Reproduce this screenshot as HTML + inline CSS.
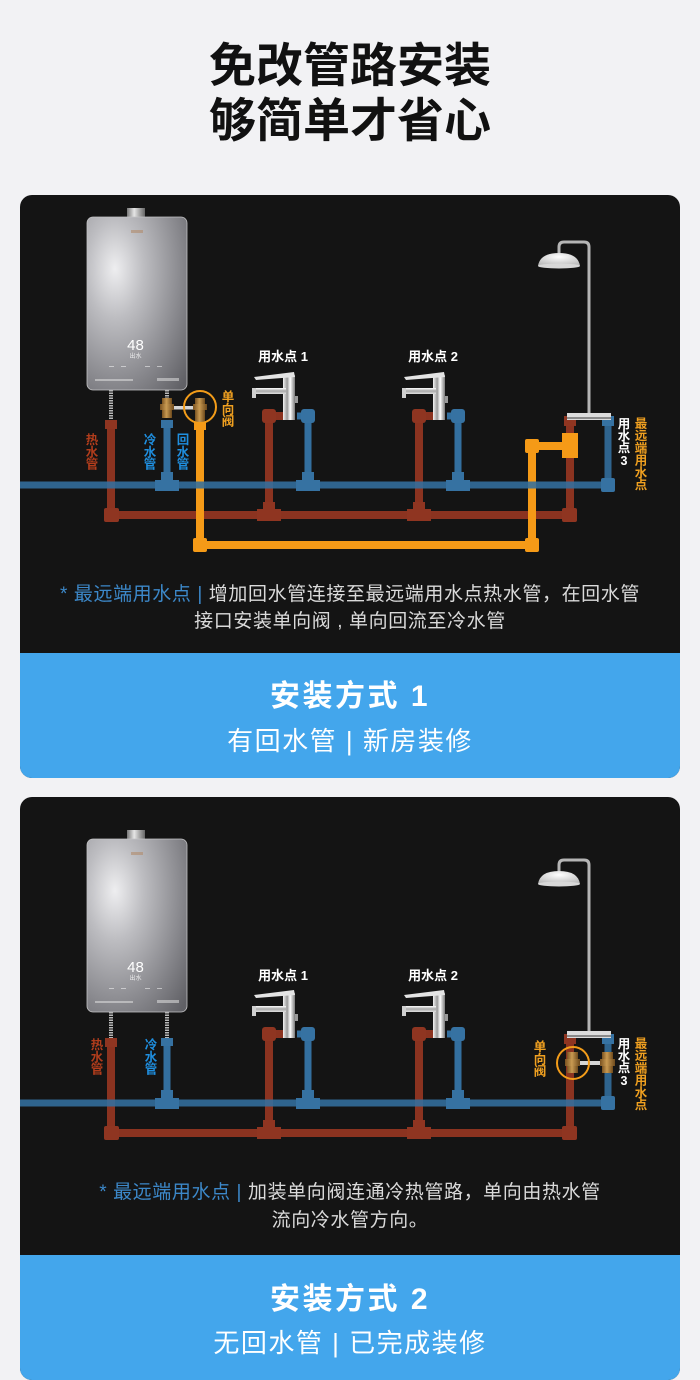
<!DOCTYPE html>
<html>
<head>
<meta charset="utf-8">
<style>
  html,body{margin:0;padding:0;}
  body{width:700px;height:1380px;background:#f2f2f4;position:relative;overflow:hidden;
       font-family:"Liberation Sans","Noto Sans CJK SC",sans-serif;}
  .title{position:absolute;left:0;width:700px;text-align:center;font-size:47px;font-weight:bold;
         color:#111;height:56px;line-height:56px;letter-spacing:0px;}
  .panel{position:absolute;left:20px;width:660px;height:583px;border-radius:12px;background:#141414;overflow:hidden;}
  .panel .blue{position:absolute;left:0;top:458px;width:660px;height:125px;background:#43a6ec;}
  .cap{position:absolute;left:0;width:700px;text-align:center;font-size:19px;color:#dadada;
       height:26px;line-height:26px;letter-spacing:0.6px;white-space:nowrap;}
  .cap .b{color:#3c88c9;}
  .h1{position:absolute;left:0;width:700px;text-align:center;font-size:30px;font-weight:bold;color:#fff;
      height:40px;line-height:40px;letter-spacing:2.5px;}
  .h2{position:absolute;left:0;width:700px;text-align:center;font-size:26px;color:#fff;
      height:34px;line-height:34px;letter-spacing:1.5px;}
  svg{position:absolute;left:0;top:0;}
  svg text{font-family:"Liberation Sans","Noto Sans CJK SC",sans-serif;}
</style>
</head>
<body>

<div class="title" style="top:38px">免改管路安装</div>
<div class="title" style="top:93px">够简单才省心</div>

<div class="panel" style="top:195px"><div class="blue"></div></div>
<div class="panel" style="top:797px"><div class="blue"></div></div>

<svg width="700" height="1380" viewBox="0 0 700 1380" xmlns="http://www.w3.org/2000/svg">
  <defs>
    <radialGradient id="hg" cx="0.28" cy="0.3" r="0.95">
      <stop offset="0" stop-color="#eeeef0"/>
      <stop offset="0.3" stop-color="#bdbdc1"/>
      <stop offset="0.7" stop-color="#88888d"/>
      <stop offset="1" stop-color="#616166"/>
    </radialGradient>
    <linearGradient id="chim" x1="0" y1="0" x2="1" y2="0">
      <stop offset="0" stop-color="#777"/>
      <stop offset="0.4" stop-color="#e6e6e6"/>
      <stop offset="1" stop-color="#666"/>
    </linearGradient>
    <linearGradient id="chromeH" x1="0" y1="0" x2="1" y2="0">
      <stop offset="0" stop-color="#f2f2f2"/>
      <stop offset="0.35" stop-color="#9a9a9a"/>
      <stop offset="0.6" stop-color="#ffffff"/>
      <stop offset="1" stop-color="#7a7a7a"/>
    </linearGradient>
    <linearGradient id="chromeV" x1="0" y1="0" x2="0" y2="1">
      <stop offset="0" stop-color="#ffffff"/>
      <stop offset="0.5" stop-color="#a8a8a8"/>
      <stop offset="1" stop-color="#e0e0e0"/>
    </linearGradient>
    <linearGradient id="brass" x1="0" y1="0" x2="1" y2="0">
      <stop offset="0" stop-color="#7a5220"/>
      <stop offset="0.45" stop-color="#c99a52"/>
      <stop offset="1" stop-color="#6e4a1c"/>
    </linearGradient>
    <radialGradient id="headG" cx="0.5" cy="0.3" r="0.7">
      <stop offset="0" stop-color="#ffffff"/>
      <stop offset="1" stop-color="#bdbdbd"/>
    </radialGradient>

    <g id="heater">
      <rect x="40" y="-9" width="18" height="10" fill="url(#chim)"/>
      <rect x="0" y="0" width="100" height="173" rx="6" fill="url(#hg)" stroke="#c4c4c6" stroke-width="0.8"/>
      <rect x="44" y="13" width="12" height="3" fill="#b08a6a" opacity="0.6"/>
      <rect x="22" y="149" width="5" height="1" fill="#fff" opacity="0.5"/>
      <rect x="34" y="149" width="5" height="1" fill="#fff" opacity="0.5"/>
      <rect x="58" y="149" width="5" height="1" fill="#fff" opacity="0.5"/>
      <rect x="70" y="149" width="5" height="1" fill="#fff" opacity="0.5"/>
      <rect x="8" y="162" width="38" height="2" fill="#e0e0e0" opacity="0.55"/>
      <rect x="70" y="161" width="22" height="3" fill="#e0e0e0" opacity="0.55"/>
    </g>

    <g id="faucet">
      <rect x="283" y="375" width="12" height="45" fill="url(#chromeH)"/>
      <polygon points="254,377 294,372 295,377 256,380" fill="#e4e4e4"/>
      <rect x="252" y="388" width="34" height="6" fill="url(#chromeV)"/>
      <rect x="252" y="388" width="4" height="10" fill="#cfcfcf"/>
      <rect x="295" y="396" width="3" height="7" fill="#999"/>
    </g>

    <g id="shower">
      <path d="M559 256 V247 Q559 242 564 242 H584 Q589 242 589 247 V414" fill="none" stroke="#b5b5b5" stroke-width="3"/>
      <path d="M538 266 Q540 253 559 253 Q578 253 580 266 Z" fill="url(#headG)"/>
      <ellipse cx="559" cy="266" rx="21" ry="2.5" fill="#d8d8d8"/>
      <rect x="567" y="413" width="44" height="7" fill="#dcdcdc"/>
      <rect x="567" y="417" width="44" height="2" fill="#8a8a8a"/>
    </g>

    <g id="netRed" fill="#8f3521">
      <path d="M111 420 V515 H570 V419" fill="none" stroke="#8b3320" stroke-width="8"/>
      <path d="M285 416 H269 V515" fill="none" stroke="#8b3320" stroke-width="8"/>
      <path d="M435 416 H419 V515" fill="none" stroke="#8b3320" stroke-width="8"/>
      <rect x="105" y="420" width="12" height="9"/>
      <rect x="104" y="508" width="15" height="14" rx="2"/>
      <rect x="257" y="509" width="24" height="12"/>
      <rect x="263" y="502" width="12" height="8"/>
      <rect x="407" y="509" width="24" height="12"/>
      <rect x="413" y="502" width="12" height="8"/>
      <rect x="562" y="508" width="15" height="14" rx="2"/>
      <rect x="262" y="409" width="14" height="14" rx="3"/>
      <rect x="412" y="409" width="14" height="14" rx="3"/>
      <rect x="564" y="416" width="12" height="10"/>
    </g>

    <g id="netBlue" fill="#3672a2">
      <path d="M167 420 V485" fill="none" stroke="#336f9f" stroke-width="7"/>
      <path d="M297 416 H308 V485" fill="none" stroke="#336f9f" stroke-width="7"/>
      <path d="M447 416 H458 V485" fill="none" stroke="#336f9f" stroke-width="7"/>
      <path d="M20 485 H608 V419" fill="none" stroke="#336f9f" stroke-width="7" opacity="0.88"/>
      <rect x="161" y="420" width="12" height="8"/>
      <rect x="155" y="480" width="24" height="11"/>
      <rect x="161" y="472" width="12" height="9"/>
      <rect x="296" y="480" width="24" height="11"/>
      <rect x="302" y="472" width="12" height="9"/>
      <rect x="446" y="480" width="24" height="11"/>
      <rect x="452" y="472" width="12" height="9"/>
      <rect x="601" y="478" width="14" height="14" rx="2"/>
      <rect x="301" y="409" width="14" height="14" rx="3"/>
      <rect x="451" y="409" width="14" height="14" rx="3"/>
      <rect x="602" y="416" width="12" height="10"/>
    </g>
  </defs>

  <!-- ================= PANEL 1 ================= -->
  <use href="#heater" x="87" y="217"/>
  <text x="135.5" y="350" font-size="15" fill="#fff" text-anchor="middle">48</text>
  <text x="135.5" y="358" font-size="6" fill="#fff" text-anchor="middle" opacity="0.8">出水</text>

  <line x1="111" y1="390" x2="111" y2="421" stroke="#b8b8b8" stroke-width="4" stroke-dasharray="1.5 1"/>
  <line x1="167" y1="390" x2="167" y2="399" stroke="#b8b8b8" stroke-width="4" stroke-dasharray="1.5 1"/>

  <use href="#netRed"/>

  <g fill="#f59a17">
    <path d="M200 422 V545 H532 V446 H566" fill="none" stroke="#f59a17" stroke-width="8"/>
    <rect x="194" y="421" width="12" height="9"/>
    <rect x="193" y="538" width="14" height="14" rx="2"/>
    <rect x="525" y="538" width="14" height="14" rx="2"/>
    <rect x="525" y="439" width="14" height="14" rx="2"/>
    <rect x="562" y="433" width="16" height="25"/>
  </g>

  <use href="#netBlue"/>

  <rect x="172" y="406" width="23" height="3.5" fill="#d6d6d6"/>
  <rect x="162" y="398" width="10" height="20" fill="url(#brass)"/>
  <rect x="160" y="404" width="14" height="6" fill="url(#brass)"/>
  <rect x="195" y="398" width="10" height="24" fill="url(#brass)"/>
  <rect x="193" y="404" width="14" height="6" fill="url(#brass)"/>
  <circle cx="200" cy="407" r="16" fill="none" stroke="#f39c19" stroke-width="2"/>

  <use href="#faucet"/>
  <use href="#faucet" x="150"/>
  <use href="#shower"/>

  <text x="283" y="361" font-size="13" font-weight="bold" fill="#fff" text-anchor="middle">用水点 1</text>
  <text x="433" y="361" font-size="13" font-weight="bold" fill="#fff" text-anchor="middle">用水点 2</text>

  <g font-size="12.5" font-weight="bold" text-anchor="middle">
    <text fill="#b23d1c"><tspan x="92" y="444">热</tspan><tspan x="92" y="456.3">水</tspan><tspan x="92" y="468.6">管</tspan></text>
    <text fill="#1f8fe0"><tspan x="150" y="444">冷</tspan><tspan x="150" y="456.3">水</tspan><tspan x="150" y="468.6">管</tspan></text>
    <text fill="#1f8fe0"><tspan x="183" y="444">回</tspan><tspan x="183" y="456.3">水</tspan><tspan x="183" y="468.6">管</tspan></text>
    <text fill="#f0a020"><tspan x="228" y="401">单</tspan><tspan x="228" y="413.3">向</tspan><tspan x="228" y="425.6">阀</tspan></text>
    <text fill="#ffffff"><tspan x="624" y="428">用</tspan><tspan x="624" y="440">水</tspan><tspan x="624" y="452">点</tspan><tspan x="624" y="465">3</tspan></text>
    <text fill="#f0a020"><tspan x="641" y="428">最</tspan><tspan x="641" y="440.2">远</tspan><tspan x="641" y="452.4">端</tspan><tspan x="641" y="464.6">用</tspan><tspan x="641" y="476.8">水</tspan><tspan x="641" y="489">点</tspan></text>
  </g>

  <!-- ================= PANEL 2 ================= -->
  <use href="#heater" x="87" y="839"/>
  <text x="135.5" y="972" font-size="15" fill="#fff" text-anchor="middle">48</text>
  <text x="135.5" y="980" font-size="6" fill="#fff" text-anchor="middle" opacity="0.8">出水</text>

  <line x1="111" y1="1012" x2="111" y2="1039" stroke="#b8b8b8" stroke-width="4" stroke-dasharray="1.5 1"/>
  <line x1="167" y1="1012" x2="167" y2="1039" stroke="#b8b8b8" stroke-width="4" stroke-dasharray="1.5 1"/>

  <use href="#netRed" y="618"/>
  <use href="#netBlue" y="618"/>

  <use href="#faucet" y="618"/>
  <use href="#faucet" x="150" y="618"/>
  <use href="#shower" y="618"/>

  <rect x="578" y="1061" width="24" height="4" fill="#d6d6d6"/>
  <rect x="567" y="1052" width="11" height="21" fill="url(#brass)"/>
  <rect x="565" y="1059" width="15" height="7" fill="url(#brass)"/>
  <rect x="602" y="1052" width="11" height="21" fill="url(#brass)"/>
  <rect x="600" y="1059" width="15" height="7" fill="url(#brass)"/>
  <circle cx="573" cy="1063" r="16" fill="none" stroke="#f39c19" stroke-width="2"/>

  <text x="283" y="980" font-size="13" font-weight="bold" fill="#fff" text-anchor="middle">用水点 1</text>
  <text x="433" y="980" font-size="13" font-weight="bold" fill="#fff" text-anchor="middle">用水点 2</text>

  <g font-size="12.5" font-weight="bold" text-anchor="middle">
    <text fill="#b23d1c"><tspan x="97" y="1049">热</tspan><tspan x="97" y="1061.3">水</tspan><tspan x="97" y="1073.6">管</tspan></text>
    <text fill="#1f8fe0"><tspan x="151" y="1049">冷</tspan><tspan x="151" y="1061.3">水</tspan><tspan x="151" y="1073.6">管</tspan></text>
    <text fill="#f0a020"><tspan x="540" y="1051">单</tspan><tspan x="540" y="1063.3">向</tspan><tspan x="540" y="1075.6">阀</tspan></text>
    <text fill="#ffffff"><tspan x="624" y="1048">用</tspan><tspan x="624" y="1060">水</tspan><tspan x="624" y="1072">点</tspan><tspan x="624" y="1085">3</tspan></text>
    <text fill="#f0a020"><tspan x="641" y="1048">最</tspan><tspan x="641" y="1060.2">远</tspan><tspan x="641" y="1072.4">端</tspan><tspan x="641" y="1084.6">用</tspan><tspan x="641" y="1096.8">水</tspan><tspan x="641" y="1109">点</tspan></text>
  </g>
</svg>

<div class="cap" style="top:582px"><span class="b">* 最远端用水点 |</span> 增加回水管连接至最远端用水点热水管，在回水管</div>
<div class="cap" style="top:609px">接口安装单向阀 , 单向回流至冷水管</div>
<div class="h1" style="top:677px">安装方式 1</div>
<div class="h2" style="top:724px">有回水管 | 新房装修</div>

<div class="cap" style="top:1180px"><span class="b">* 最远端用水点 |</span> 加装单向阀连通冷热管路，单向由热水管</div>
<div class="cap" style="top:1208px">流向冷水管方向。</div>
<div class="h1" style="top:1280px">安装方式 2</div>
<div class="h2" style="top:1326px">无回水管 | 已完成装修</div>

</body>
</html>
